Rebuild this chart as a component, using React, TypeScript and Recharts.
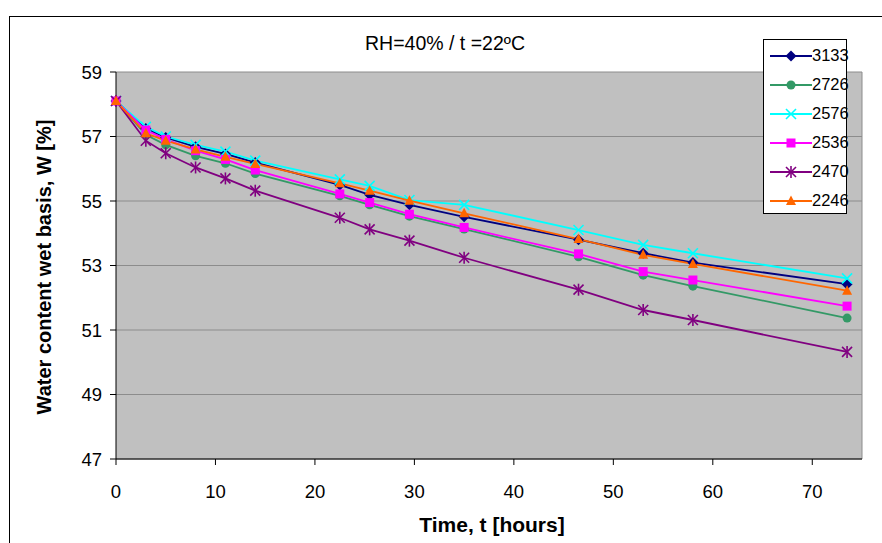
import React from "react";
import { LineChart, Line, XAxis, YAxis, CartesianGrid, ReferenceLine } from "recharts";

// time of each weighing, hours
const hours = [0, 3, 5, 8, 11, 14, 22.5, 25.5, 29.5, 35, 46.5, 53, 58, 73.5];

// water content wet basis [%] per sample
const s3133 = [58.1, 57.25, 56.97, 56.68, 56.46, 56.19, 55.5, 55.19, 54.88, 54.51, 53.8, 53.38, 53.09, 52.42];
const s2726 = [58.1, 57.05, 56.74, 56.4, 56.17, 55.85, 55.16, 54.88, 54.53, 54.13, 53.27, 52.7, 52.36, 51.37];
const s2576 = [58.1, 57.3, 57.0, 56.74, 56.53, 56.25, 55.67, 55.47, 55.03, 54.88, 54.1, 53.64, 53.38, 52.6];
const s2536 = [58.1, 57.2, 56.91, 56.56, 56.29, 55.96, 55.22, 54.95, 54.59, 54.18, 53.36, 52.81, 52.55, 51.74];
const s2470 = [58.1, 56.87, 56.48, 56.04, 55.7, 55.32, 54.48, 54.12, 53.77, 53.24, 52.25, 51.62, 51.31, 50.32];
const s2246 = [58.1, 57.1, 56.87, 56.6, 56.37, 56.15, 55.55, 55.32, 55.01, 54.62, 53.82, 53.33, 53.05, 52.22];

const xTicks = [0, 10, 20, 30, 40, 50, 60, 70];
const yTicks = [47, 49, 51, 53, 55, 57, 59];

type Kind = "diamond" | "circle" | "cross" | "square" | "star" | "triangle";

const series: { key: string; values: number[]; color: string; kind: Kind }[] = [
  { key: "3133", values: s3133, color: "#000080", kind: "diamond" },
  { key: "2726", values: s2726, color: "#339966", kind: "circle" },
  { key: "2576", values: s2576, color: "#00FFFF", kind: "cross" },
  { key: "2536", values: s2536, color: "#FF00FF", kind: "square" },
  { key: "2470", values: s2470, color: "#800080", kind: "star" },
  { key: "2246", values: s2246, color: "#FF6600", kind: "triangle" },
];

const data = hours.map((h, i) => {
  const row: Record<string, number> = { t: h };
  series.forEach((s) => (row[s.key] = s.values[i]));
  return row;
});

const Marker = ({ kind, color, cx, cy }: { kind: Kind; color: string; cx: number; cy: number }) => {
  if (cx == null || cy == null) return null;
  switch (kind) {
    case "diamond":
      return <polygon points={`${cx},${cy - 5.5} ${cx + 5.5},${cy} ${cx},${cy + 5.5} ${cx - 5.5},${cy}`} fill={color} />;
    case "circle":
      return <circle cx={cx} cy={cy} r={4.5} fill={color} />;
    case "square":
      return <rect x={cx - 4.5} y={cy - 4.5} width={9} height={9} fill={color} />;
    case "triangle":
      return <polygon points={`${cx},${cy - 5.5} ${cx + 5},${cy + 4} ${cx - 5},${cy + 4}`} fill={color} />;
    case "cross":
      return (
        <g stroke={color} strokeWidth={1.6}>
          <line x1={cx - 5} y1={cy - 5} x2={cx + 5} y2={cy + 5} />
          <line x1={cx - 5} y1={cy + 5} x2={cx + 5} y2={cy - 5} />
        </g>
      );
    case "star":
      return (
        <g stroke={color} strokeWidth={1.6}>
          <line x1={cx - 5} y1={cy - 5} x2={cx + 5} y2={cy + 5} />
          <line x1={cx - 5} y1={cy + 5} x2={cx + 5} y2={cy - 5} />
          <line x1={cx} y1={cy - 6} x2={cx} y2={cy + 6} />
        </g>
      );
  }
  return null;
};

const font = "'Liberation Sans', Arial, sans-serif";

export default function App() {
  return (
    <div style={{ position: "absolute", left: 0, top: 0, width: 882, height: 543, overflow: "hidden", background: "#fff", fontFamily: font }}>
      {/* outer chart frame */}
      <div style={{ position: "absolute", left: 9, top: 16, width: 1000, height: 1000, border: "1px solid #000" }} />

      <div style={{ position: "absolute", left: 0, width: 890, top: 32, textAlign: "center", fontSize: 19.5 }}>
        RH=40% / t =22ºC
      </div>

      <LineChart
        width={882}
        height={543}
        data={data}
        margin={{ top: 72, right: 20, bottom: 54, left: 0 }}
        style={{ position: "absolute", left: 0, top: 0 }}
      >
        <CartesianGrid vertical={false} fill="#C0C0C0" stroke="#8c8c8c" strokeWidth={1} />
        <XAxis
          dataKey="t"
          type="number"
          domain={[0, 75]}
          ticks={xTicks}
          height={30}
          stroke="#000"
          tickSize={6}
          tickMargin={20}
          tick={{ fill: "#000", fontSize: 18.5, fontFamily: font }}
        />
        <YAxis
          type="number"
          domain={[47, 59]}
          ticks={yTicks}
          width={116}
          stroke="#000"
          tickSize={6}
          tickMargin={8}
          tick={{ fill: "#000", fontSize: 18.5, fontFamily: font }}
        />
        <ReferenceLine x={75} stroke="#8c8c8c" />
        {series.map((s) => (
          <Line
            key={s.key}
            dataKey={s.key}
            type="linear"
            stroke={s.color}
            strokeWidth={1.8}
            isAnimationActive={false}
            dot={(p: any) => <Marker key={`${s.key}-${p.index}`} kind={s.kind} color={s.color} cx={p.cx} cy={p.cy} />}
            activeDot={false}
          />
        ))}
      </LineChart>

      {/* legend */}
      <div
        style={{
          position: "absolute",
          left: 763,
          top: 39,
          width: 82,
          height: 173,
          background: "#fff",
          border: "1px solid #000",
        }}
      >
        {series.map((s, i) => (
          <div key={s.key} style={{ position: "absolute", left: 0, top: 1 + i * 29, height: 29, display: "flex", alignItems: "center" }}>
            <svg width={48} height={16} style={{ marginLeft: 6 }}>
              <line x1={0} y1={8} x2={42} y2={8} stroke={s.color} strokeWidth={1.8} />
              <Marker kind={s.kind} color={s.color} cx={21} cy={8} />
            </svg>
            <span style={{ fontSize: 16.5, marginLeft: -6 }}>{s.key}</span>
          </div>
        ))}
      </div>

      <div style={{ position: "absolute", left: 0, width: 984, top: 513, textAlign: "center", fontSize: 21, fontWeight: "bold" }}>
        Time, t [hours]
      </div>
      <div
        style={{
          position: "absolute",
          left: 44,
          top: 267,
          transform: "translate(-50%, -50%) rotate(-90deg)",
          whiteSpace: "nowrap",
          fontSize: 20,
          fontWeight: "bold",
        }}
      >
        Water content wet basis, W [%]
      </div>
    </div>
  );
}
